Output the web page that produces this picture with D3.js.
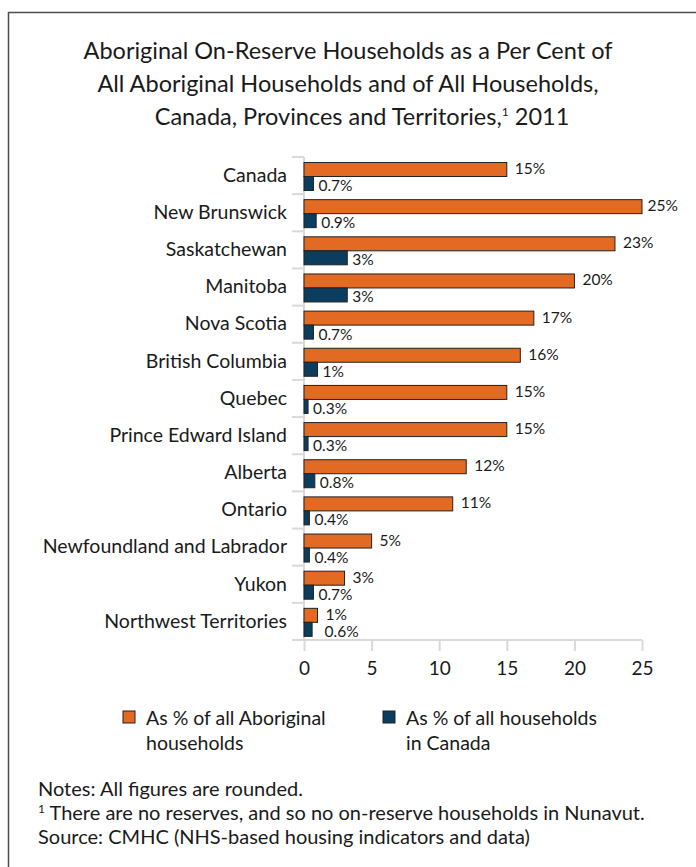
<!DOCTYPE html>
<meta charset="utf-8">
<style>
body { margin: 0; background: #fff; }
svg text { font-family: Lato, "Open Sans", sans-serif; fill: #1a1a1a; }
.title { font-size: 23.5px; text-anchor: middle; }
.cat text { font-size: 19.5px; }
.xaxis text { font-size: 19px; }
.val { font-size: 15.5px; }
.legend text { font-size: 19.5px; }
.notes text { font-size: 20px; }
.grid line, .grid path { stroke: #d9d9d9; stroke-width: 2; }
</style>
<body>
<script src="https://d3js.org/d3.v7.min.js"></script>
<script>

var categories = ["Canada", "New Brunswick", "Saskatchewan", "Manitoba", "Nova Scotia",
  "British Columbia", "Quebec", "Prince Edward Island", "Alberta", "Ontario",
  "Newfoundland and Labrador", "Yukon", "Northwest Territories"];
var aboriginalPct = [15, 25, 23, 20, 17, 16, 15, 15, 12, 11, 5, 3, 1];
var allHouseholdsPct = [0.7, 0.9, 3.2, 3.2, 0.7, 1, 0.3, 0.3, 0.8, 0.4, 0.4, 0.7, 0.6];
var xTicks = [0, 5, 10, 15, 20, 25];
var legendLabels = [["As % of all Aboriginal", "households"], ["As % of all households", "in Canada"]];
var titleLines = ["Aboriginal On-Reserve Households as a Per Cent of",
  "All Aboriginal Households and of All Households,",
  "Canada, Provinces and Territories,"];
var notes = ["Notes: All figures are rounded.",
  "There are no reserves, and so no on-reserve households in Nunavut.",
  "Source: CMHC (NHS-based housing indicators and data)"];

var orange = "#e36a22", navy = "#0b3d5e";

var svg = d3.select("body").append("svg")
    .attr("width", 696)
    .attr("height", 867);

// frame
svg.append("rect")
    .attr("x", 8.5).attr("y", 12.5)
    .attr("width", 720).attr("height", 900)
    .style("fill", "none").style("stroke", "#4d4d4d").style("stroke-width", 1.5);

// title
var title = svg.append("text").attr("class", "title");
titleLines.forEach(function(t, i) {
  title.append("tspan").attr("x", i == 2 ? 362 : 348).attr("y", 59 + i * 33).text(t);
});
title.append("tspan").attr("font-size", "12px").attr("dy", -9).text("1");
title.append("tspan").attr("dy", 9).text(" 2011");

var x = d3.scaleLinear().domain([0, 25]).range([304, 642]);
var y = d3.scaleBand().domain(categories).range([157, 640]);
var sub = d3.scaleBand().domain(["ab", "all"]).range([5.5, 33.5]);

// y axis: line + boundary ticks
var grid = svg.append("g").attr("class", "grid");
grid.append("line")
    .attr("x1", x(0)).attr("x2", x(0))
    .attr("y1", y.range()[0]).attr("y2", y.range()[1]);
grid.selectAll(".bt")
    .data(d3.range(categories.length + 1))
  .enter().append("line")
    .attr("x1", x(0) - 12).attr("x2", x(0))
    .attr("y1", function(i) { return y.range()[0] + i * y.step(); })
    .attr("y2", function(i) { return y.range()[0] + i * y.step(); });
grid.append("line")
    .attr("x1", x(0) - 12).attr("x2", x(25))
    .attr("y1", y.range()[1]).attr("y2", y.range()[1]);

svg.append("g")
    .attr("class", "cat")
    .attr("transform", "translate(" + x(0) + ",0)")
    .call(d3.axisLeft(y).tickSize(0).tickPadding(17))
    .call(function(g) { g.select(".domain").remove(); });

svg.append("g")
    .attr("class", "xaxis grid")
    .attr("transform", "translate(0," + y.range()[1] + ")")
    .call(d3.axisBottom(x).tickValues(xTicks).tickSize(11).tickSizeOuter(0).tickPadding(11))
    .call(function(g) { g.select(".domain").remove(); });

function fmt(v) { return v >= 1 ? Math.round(v) + "%" : v.toFixed(1) + "%"; }

var rows = categories.map(function(c, i) {
  return {cat: c, ab: aboriginalPct[i], all: allHouseholdsPct[i]};
});

var row = svg.selectAll(".row")
    .data(rows)
  .enter().append("g")
    .attr("transform", function(d) { return "translate(0," + y(d.cat) + ")"; });

row.append("rect")
    .attr("x", x(0))
    .attr("y", sub("ab"))
    .attr("width", function(d) { return x(d.ab) - x(0); })
    .attr("height", sub.bandwidth())
    .style("fill", orange).style("stroke", "#222").style("stroke-width", 1);

row.append("rect")
    .attr("x", x(0))
    .attr("y", sub("all"))
    .attr("width", function(d) { return x(d.all) - x(0); })
    .attr("height", sub.bandwidth())
    .style("fill", navy).style("stroke", "#222").style("stroke-width", 1);

row.append("text")
    .attr("class", "val ab")
    .attr("x", function(d) { return x(d.ab) + 8; })
    .attr("y", sub("ab") + sub.bandwidth() / 2 + 4.5)
    .text(function(d) { return fmt(d.ab); })
    .each(function(d) {
      var w = this.getComputedTextLength(), cx = +d3.select(this).attr("x");
      if (cx + w > 678) d3.select(this).attr("x", Math.max(x(d.ab) + 3, 678 - w));
    });

row.append("text")
    .attr("class", "val")
    .attr("x", function(d) { return x(d.all) + 5; })
    .attr("y", sub("all") + sub.bandwidth() / 2 + 7.5)
    .text(function(d) { return fmt(d.all); })
    .each(function() {
      // line up under the orange label when it sits right on top of it
      var me = d3.select(this), ax = +d3.select(this.parentNode).select(".ab").attr("x");
      var cx = +me.attr("x"), w = this.getComputedTextLength();
      if (cx < ax && cx + w > ax + 10) me.attr("x", ax - 1);
    });

// legend
var legend = svg.append("g").attr("class", "legend");
var lx = [123, 383];
[orange, navy].forEach(function(col, i) {
  legend.append("rect")
      .attr("x", lx[i]).attr("y", 711)
      .attr("width", 12).attr("height", 12)
      .style("fill", col).style("stroke", "#222");
  legendLabels[i].forEach(function(t, j) {
    legend.append("text").attr("x", lx[i] + 23).attr("y", 725 + j * 25).text(t);
  });
});

// notes
var ng = svg.append("g").attr("class", "notes");
notes.forEach(function(t, i) {
  var tx = ng.append("text").attr("x", 38).attr("y", 796 + i * 24);
  if (i == 1) {
    tx.append("tspan").attr("font-size", "12px").attr("dy", -7).text("1");
    tx.append("tspan").attr("dy", 7).text(" " + t);
  } else tx.text(t);
});

</script>
</body>
